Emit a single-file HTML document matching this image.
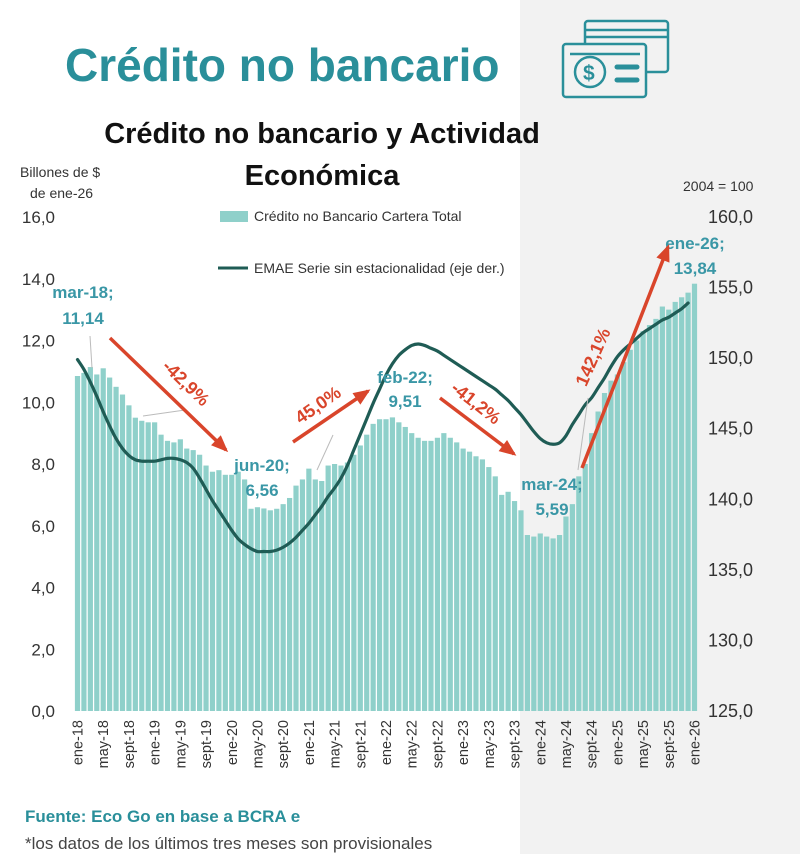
<!DOCTYPE html>
<html><head><meta charset="utf-8"><style>
body{margin:0;width:800px;height:854px;overflow:hidden;background:#fff;font-family:"Liberation Sans",sans-serif}
svg{display:block}
</style></head><body>
<svg id="c" width="800" height="854" xmlns="http://www.w3.org/2000/svg">
<rect x="0" y="0" width="800" height="854" fill="#fff"/>
<rect x="520" y="0" width="280" height="854" fill="#f2f2f2"/>
<text x="65" y="81" font-size="46" font-weight="bold" fill="#2a8f9a">Crédito no bancario</text>
<g fill="none" stroke="#2a8f9a" stroke-width="2.5">
<rect x="585" y="21" width="83" height="51" rx="3"/><line x1="586" y1="30" x2="667" y2="30"/><line x1="586" y1="37" x2="667" y2="37"/>
<rect x="563" y="44" width="83" height="53" rx="3" fill="#f2f2f2"/><line x1="570" y1="54" x2="640" y2="54"/>
<circle cx="590" cy="72" r="15"/><line x1="617" y1="67" x2="637" y2="67" stroke-width="5" stroke-linecap="round"/><line x1="617" y1="80" x2="637" y2="80" stroke-width="5" stroke-linecap="round"/>
<text x="583" y="80" font-size="21" fill="#2a8f9a" stroke="none" font-weight="bold">$</text></g>
<text x="322" y="143" font-size="29" font-weight="bold" text-anchor="middle" fill="#111">Crédito no bancario y Actividad</text>
<text x="322" y="185" font-size="29" font-weight="bold" text-anchor="middle" fill="#111">Económica</text>
<text x="20" y="177" font-size="14" fill="#333">Billones de $</text>
<text x="30" y="198" font-size="14" fill="#333">de ene-26</text>
<text x="683" y="191" font-size="14" fill="#333">2004 = 100</text>
<rect x="220" y="211" width="28" height="11" fill="#8fd0ca"/>
<text x="254" y="221" font-size="14" fill="#333">Crédito no Bancario Cartera Total</text>
<line x1="218" y1="268" x2="248" y2="268" stroke="#1f5c55" stroke-width="3"/>
<text x="254" y="273" font-size="14" fill="#333">EMAE Serie sin estacionalidad (eje der.)</text>
<g id="bars"></g><g id="ticks"></g><g id="line"></g><g id="ann"></g>
<text x="25" y="822" font-size="17" font-weight="bold" fill="#2a8f9a">Fuente: Eco Go en base a BCRA e</text>
<text x="25" y="849" font-size="17" fill="#444">*los datos de los últimos tres meses son provisionales</text>
</svg>
<script>
const credit=[10.85,10.95,11.14,10.9,11.1,10.8,10.5,10.25,9.9,9.5,9.4,9.35,9.35,8.95,8.75,8.7,8.8,8.5,8.45,8.3,7.95,7.75,7.8,7.65,7.65,7.75,7.5,6.55,6.6,6.56,6.5,6.55,6.7,6.9,7.3,7.5,7.85,7.5,7.45,7.95,8.0,7.95,8.05,8.3,8.6,8.95,9.3,9.45,9.45,9.51,9.35,9.2,9.0,8.85,8.75,8.75,8.85,9.0,8.85,8.7,8.5,8.4,8.25,8.15,7.9,7.6,7.0,7.1,6.8,6.5,5.7,5.65,5.75,5.65,5.59,5.7,6.3,6.7,7.6,8.0,9.0,9.7,10.3,10.7,10.9,11.3,11.7,12.0,12.3,12.5,12.7,13.1,13.0,13.25,13.4,13.55,13.84];
const emae=[149.9,149.2,148.3,147.3,146.2,145.2,144.3,143.6,143.1,142.8,142.7,142.7,142.7,142.8,142.9,142.9,142.8,142.6,142.2,141.5,140.7,139.9,139.2,138.5,137.8,137.2,136.8,136.5,136.3,136.3,136.3,136.4,136.6,136.9,137.3,137.8,138.3,138.9,139.5,140.2,140.8,141.5,142.4,143.5,144.6,145.7,146.8,147.8,148.8,149.6,150.2,150.6,150.9,151.0,150.9,150.7,150.5,150.2,149.9,149.6,149.3,149.0,148.7,148.4,148.1,147.8,147.4,147.0,146.5,146.0,145.4,144.8,144.3,144.0,143.9,144.0,144.5,145.3,146.0,146.7,147.2,147.9,148.6,149.4,150.1,150.6,151.0,151.4,151.8,152.1,152.4,152.7,152.9,153.2,153.5,153.9];
const leftTicks=["0,0","2,0","4,0","6,0","8,0","10,0","12,0","14,0","16,0"];
const rightTicks=["125,0","130,0","135,0","140,0","145,0","150,0","155,0","160,0"];
const xLabels=["ene-18","may-18","sept-18","ene-19","may-19","sept-19","ene-20","may-20","sept-20","ene-21","may-21","sept-21","ene-22","may-22","sept-22","ene-23","may-23","sept-23","ene-24","may-24","sept-24","ene-25","may-25","sept-25","ene-26"];
const NS="http://www.w3.org/2000/svg";
const x0=77.5,step=(694.5-77.5)/96,yB=711,yT=217;
const xs=i=>x0+i*step;
const yL=v=>yB-(v/16)*(yB-yT);
const yR=v=>yB-((v-125)/35)*(yB-yT);
function mk(t,a,p){const e=document.createElementNS(NS,t);for(const k in a)e.setAttribute(k,a[k]);(p||document.getElementById('c')).appendChild(e);return e;}
const gb=document.getElementById('bars');
credit.forEach((v,i)=>{const r=mk('rect',{x:xs(i)-2.6,y:yL(v),width:5.2,height:yB-yL(v),fill:'#8fd0ca'},gb);

});
const gt=document.getElementById('ticks');
leftTicks.forEach((t,i)=>{const e=mk('text',{x:55,y:yL(i*2)+6,'font-size':17,'text-anchor':'end',fill:'#333'},gt);e.textContent=t;

});
rightTicks.forEach((t,i)=>{const e=mk('text',{x:708,y:yR(125+i*5)+6,'font-size':18,fill:'#333'},gt);e.textContent=t;

});
xLabels.forEach((t,i)=>{const x=xs(i*4)+5;const e=mk('text',{x:x,y:720,'font-size':14.5,'text-anchor':'end',fill:'#333',transform:`rotate(-90 ${x} 720)`},gt);e.textContent=t;

});
const pts=emae.map((v,i)=>[xs(i),yR(v)]);
let d=`M${pts[0][0]},${pts[0][1]}`;
for(let i=0;i<pts.length-1;i++){const p0=pts[Math.max(0,i-1)],p1=pts[i],p2=pts[i+1],p3=pts[Math.min(pts.length-1,i+2)];
d+=` C${p1[0]+(p2[0]-p0[0])/6},${p1[1]+(p2[1]-p0[1])/6} ${p2[0]-(p3[0]-p1[0])/6},${p2[1]-(p3[1]-p1[1])/6} ${p2[0]},${p2[1]}`;}
const ln=mk('path',{d:d,fill:'none',stroke:'#1f5c55','stroke-width':3.2,'stroke-linecap':'round'},document.getElementById('line'));


const ga=document.getElementById('ann');
const labs=[["mar-18;",83,298],["11,14",83,324],["jun-20;",262,471],["6,56",262,496],["feb-22;",405,383],["9,51",405,407],["mar-24;",552,490],["5,59",552,515],["ene-26;",695,249],["13,84",695,274]];
[[90,336,92,368],[143,416,185,410],[333,435,317,470],[588,398,578,470]].forEach(l=>{const e=mk('line',{x1:l[0],y1:l[1],x2:l[2],y2:l[3],stroke:'#bbb','stroke-width':1},ga);

});
labs.forEach(l=>{const e=mk('text',{x:l[1],y:l[2],'font-size':17,'font-weight':'bold','text-anchor':'middle',fill:'#3a97a6'},ga);e.textContent=l[0];

});
const arr=[[110,338,226,450,"-42,9%",186,383,44],[293,442,368,391,"45,0%",318,405,-35],[440,398,514,454,"-41,2%",476,403,38],[582,468,668,247,"142,1%",593,357,-66]];
arr.forEach(a=>{const g=mk('g',{},ga);


mk('line',{x1:a[0],y1:a[1],x2:a[2],y2:a[3],stroke:'#d9452b','stroke-width':3.5},g);
const ang=Math.atan2(a[3]-a[1],a[2]-a[0]);const L=14,W=7;
const bx=a[2]-L*Math.cos(ang),by=a[3]-L*Math.sin(ang);
mk('polygon',{points:`${a[2]+3*Math.cos(ang)},${a[3]+3*Math.sin(ang)} ${bx-W*Math.sin(ang)},${by+W*Math.cos(ang)} ${bx+W*Math.sin(ang)},${by-W*Math.cos(ang)}`,fill:'#d9452b'},g);
const t=mk('text',{x:a[5],y:a[6]+6,'font-size':18,'font-weight':'bold','text-anchor':'middle',fill:'#d9452b',transform:`rotate(${a[7]} ${a[5]} ${a[6]})`},g);t.textContent=a[4];});
</script>
</body></html>
